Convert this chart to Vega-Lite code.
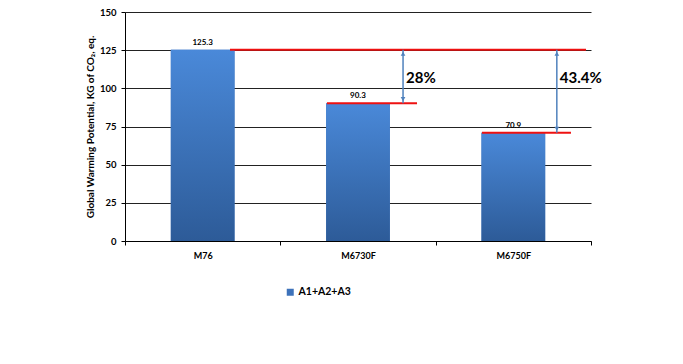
{
  "$schema": "https://vega.github.io/schema/vega-lite/v6.json",
  "width": 466,
  "height": 229,
  "autosize": {"type": "none"},
  "padding": {"left": 125, "top": 12, "right": 92, "bottom": 123},
  "background": "white",
  "config": {
    "view": {"stroke": null},
    "font": "Lato",
    "axis": {
      "labelFont": "Lato",
      "labelFontWeight": "bold",
      "labelFontSize": 9,
      "labelColor": "#000000",
      "domainColor": "#000000",
      "tickColor": "#000000",
      "tickSize": 4,
      "titleFont": "Lato",
      "titleColor": "#000000"
    }
  },
  "datasets": {
    "bars": [
      {"product": "M76", "gwp": 125.3, "series": "A1+A2+A3"},
      {"product": "M6730F", "gwp": 90.3, "series": "A1+A2+A3"},
      {"product": "M6750F", "gwp": 70.9, "series": "A1+A2+A3"}
    ],
    "refs": [
      {"value": 125.3, "from": 0.676, "to": 2.968},
      {"value": 90.3, "from": 1.3, "to": 1.88},
      {"value": 70.9, "from": 2.298, "to": 2.871}
    ],
    "arrows": [
      {"pos": 1.79, "top": 125.3, "bottom": 90.3, "label": "28%", "labelAt": 107},
      {"pos": 2.78, "top": 125.3, "bottom": 70.9, "label": "43.4%", "labelAt": 107}
    ]
  },
  "layer": [
    {
      "data": {"name": "bars"},
      "encoding": {
        "x": {
          "field": "product",
          "type": "nominal",
          "sort": null,
          "scale": {"paddingInner": 0, "paddingOuter": 0},
          "axis": {"title": null, "labelAngle": 0, "tickBand": "extent", "labelPadding": 6, "domainWidth": 1}
        },
        "y": {
          "field": "gwp",
          "type": "quantitative",
          "scale": {"domain": [0, 150], "nice": false},
          "axis": {
            "title": "Global Warming Potential, KG of CO₂, eq.",
            "titleFontSize": 10,
            "titleFontWeight": "bold",
            "titlePadding": 4,
            "values": [0, 25, 50, 75, 100, 125, 150],
            "grid": true,
            "gridColor": "#222222",
            "gridWidth": 1,
            "labelFontSize": 9.5,
            "labelPadding": 5,
            "domainColor": "#000000"
          }
        }
      },
      "layer": [
        {
          "mark": {"type": "bar", "width": {"band": 0.41}},
          "encoding": {
            "color": {
              "field": "series",
              "type": "nominal",
              "scale": {"range": ["#3d72ba"]},
              "legend": {
                "orient": "none",
                "legendX": 160,
                "legendY": 275,
                "title": null,
                "symbolType": "square",
                "symbolSize": 49,
                "symbolStrokeWidth": 0,
                "labelFontSize": 10.5,
                "labelFontWeight": "bold",
                "labelFont": "Lato",
                "labelColor": "#000000",
                "labelOffset": 3
              }
            }
          }
        },
        {
          "mark": {
            "type": "bar",
            "width": {"band": 0.41},
            "color": {
              "gradient": "linear",
              "x1": 0, "y1": 0, "x2": 0, "y2": 1,
              "stops": [
                {"offset": 0, "color": "#4a89d9"},
                {"offset": 1, "color": "#2d5b98"}
              ]
            }
          }
        },
        {
          "mark": {"type": "text", "baseline": "bottom", "dy": -3, "fontSize": 8, "fontWeight": "bold", "color": "#000000", "font": "Lato"},
          "encoding": {"text": {"field": "gwp", "type": "quantitative", "format": ".1f"}}
        }
      ]
    },
    {
      "layer": [
        {
          "data": {"name": "refs"},
          "mark": {"type": "rule", "color": "#ee1111", "strokeWidth": 2},
          "encoding": {
            "x": {"field": "from", "type": "quantitative", "scale": {"domain": [0, 3], "nice": false, "zero": false}, "axis": null},
            "x2": {"field": "to"},
            "y": {"field": "value", "type": "quantitative", "scale": {"domain": [0, 150], "nice": false}, "axis": null}
          }
        },
        {
          "data": {"name": "arrows"},
          "encoding": {
            "x": {"field": "pos", "type": "quantitative", "scale": {"domain": [0, 3], "nice": false, "zero": false}, "axis": null}
          },
          "layer": [
            {
              "mark": {"type": "rule", "color": "#4f81bd", "strokeWidth": 1.5},
              "encoding": {
                "y": {"field": "top", "type": "quantitative", "scale": {"domain": [0, 150], "nice": false}, "axis": null},
                "y2": {"field": "bottom"}
              }
            },
            {
              "mark": {"type": "point", "shape": "triangle-up", "filled": true, "color": "#4f81bd", "size": 22, "opacity": 1, "yOffset": 4},
              "encoding": {
                "y": {"field": "top", "type": "quantitative", "axis": null}
              }
            },
            {
              "mark": {"type": "point", "shape": "triangle-down", "filled": true, "color": "#4f81bd", "size": 22, "opacity": 1, "yOffset": -4},
              "encoding": {
                "y": {"field": "bottom", "type": "quantitative", "axis": null}
              }
            },
            {
              "mark": {"type": "text", "align": "left", "baseline": "middle", "dx": 3, "fontSize": 15, "fontWeight": "bold", "color": "#000000", "font": "Lato"},
              "encoding": {
                "y": {"field": "labelAt", "type": "quantitative", "axis": null},
                "text": {"field": "label"}
              }
            }
          ]
        }
      ]
    }
  ],
  "resolve": {"scale": {"x": "independent"}, "axis": {"x": "independent", "y": "independent"}}
}
